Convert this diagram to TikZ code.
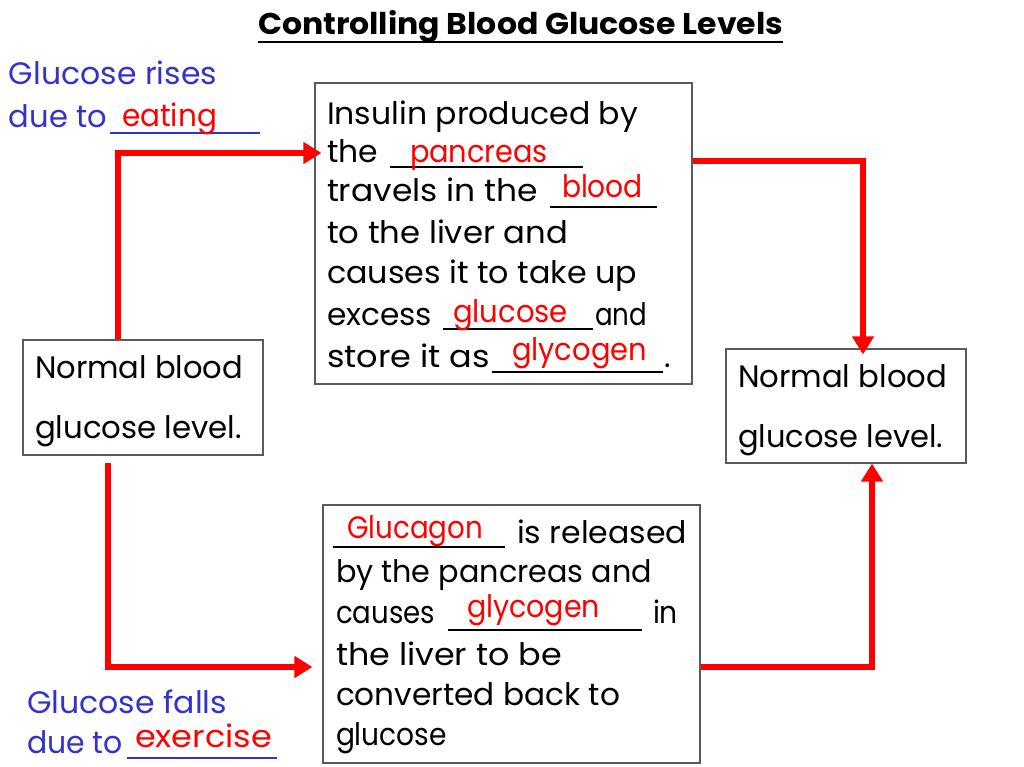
\documentclass[tikz,border=0pt]{standalone}
\usepackage{fontspec}
\setmainfont{Poppins}
\usetikzlibrary{arrows.meta}
\definecolor{myblue}{RGB}{51,51,204}
\definecolor{myred}{RGB}{255,0,0}
\definecolor{boxgray}{RGB}{90,90,90}
\newcommand{\fitw}[2]{\resizebox{#1}{\height}{#2}}
\begin{document}
\begin{tikzpicture}[x=1pt,y=-1pt,
  txt/.style={anchor=base west, inner sep=0pt, outer sep=0pt, font=\fontsize{31}{37}\selectfont},
  btxt/.style={txt, text=myblue},
  rtxt/.style={txt, text=myred},
  frame/.style={draw=boxgray, line width=1.2pt, inner sep=0pt, fill=white},
  arr/.style={draw=myred, line width=6pt, -{Triangle[length=18pt,width=21pt]}},
  blank/.style={line width=2pt},
  bblank/.style={line width=2pt, draw=myblue}
]
\useasboundingbox[fill=white] (0,0) rectangle (1024,767);

% boxes
\node[frame, minimum width=377pt, minimum height=301pt] (ibox) at (503.5,233.5) {};
\node[frame, minimum width=240pt, minimum height=115pt] (lbox) at (143,397.5) {};
\node[frame, minimum width=240pt, minimum height=114pt] (rbox) at (846,406) {};
\node[frame, minimum width=377pt, minimum height=258pt] (bbox) at (511.5,634) {};

% title
\node[txt, font=\fontsize{30}{36}\selectfont\bfseries] (title) at (258,35) {\fitw{525pt}{Controlling Blood Glucose Levels}};
\draw[line width=2pt] ([yshift=-7pt]title.base west) -- ([yshift=-7pt]title.base east);

% top-left blue text
\node[btxt] (rise1) at (9,85) {\fitw{208pt}{Glucose rises}};
\node[btxt] (rise2) at (9,128) {\fitw{98pt}{due to}};
\draw[bblank] (110,133) -- (260,133);
\node[rtxt] (eating) at (122,127) {\fitw{95pt}{eating}};

% insulin box text
\node[txt] (i1) at (327,125) {\fitw{311pt}{Insulin produced by}};
\node[txt] (i2) at (327,163) {\fitw{51pt}{the}};
\draw[blank] (390,167) -- (583,167);
\node[rtxt] (pancreas) at (410,163) {\fitw{138pt}{pancreas}};
\node[txt] (i3) at (327,202) {\fitw{211pt}{travels in the}};
\draw[blank] (550,207) -- (657,207);
\node[rtxt] (blood) at (562,198) {\fitw{81pt}{blood}};
\node[txt] (i4) at (327,243) {\fitw{241pt}{to the liver and}};
\node[txt] (i5) at (327,283) {\fitw{310pt}{causes it to take up}};
\node[txt] (i6) at (327,325) {\fitw{105pt}{excess}};
\draw[blank] (443,329) -- (593,329);
\node[rtxt] (glucose) at (453,322) {\fitw{115pt}{glucose}};
\node[txt] (i6b) at (595,325) {\fitw{52pt}{and}};
\node[txt] (i7) at (327,367) {\fitw{163pt}{store it as}};
\draw[blank] (492,372) -- (663,372);
\node[rtxt] (glycogen1) at (512,360) {\fitw{135pt}{glycogen}};
\node[txt] (i7b) at (664,367) {.};

% normal boxes text
\node[txt] (l1) at (35,378) {\fitw{208pt}{Normal blood}};
\node[txt] (l2) at (35,438) {\fitw{207pt}{glucose level.}};
\node[txt] (r1) at (738,387) {\fitw{209pt}{Normal blood}};
\node[txt] (r2) at (738,447) {\fitw{205pt}{glucose level.}};

% glucagon box text
\draw[blank] (333,547) -- (505,547);
\node[rtxt] (glucagon) at (347,538) {\fitw{136pt}{Glucagon}};
\node[txt] (b1) at (517,543) {\fitw{170pt}{is released}};
\node[txt] (b2) at (336,582) {\fitw{316pt}{by the pancreas and}};
\node[txt] (b3) at (336,623) {\fitw{99pt}{causes}};
\draw[blank] (448,630) -- (642,630);
\node[rtxt] (glycogen2) at (467,617) {\fitw{133pt}{glycogen}};
\node[txt] (b3b) at (653,623) {\fitw{25pt}{in}};
\node[txt] (b4) at (336,665) {\fitw{226pt}{the liver to be}};
\node[txt] (b5) at (336,705) {\fitw{284pt}{converted back to}};
\node[txt] (b6) at (336,745) {\fitw{111pt}{glucose}};

% bottom-left blue text
\node[btxt] (fall1) at (27,713) {\fitw{200pt}{Glucose falls}};
\node[btxt] (fall2) at (27,753) {\fitw{96pt}{due to}};
\draw[bblank] (127,758) -- (277,758);
\node[rtxt] (exercise) at (135,747) {\fitw{137pt}{exercise}};

% arrows
\draw[arr] ([xshift=-25pt]lbox.north) |- ([xshift=7pt]ibox.west |- 0,153);
\draw[arr] (ibox.east |- 0,161) -| ([xshift=17pt,yshift=-6pt]rbox.north);
\draw[arr] ([xshift=-35pt,yshift=-7pt]lbox.south) |- ([xshift=-10pt]bbox.west |- 0,667);
\draw[arr] (bbox.east |- 0,667) -| ([xshift=26pt]rbox.south);
\end{tikzpicture}
\end{document}
